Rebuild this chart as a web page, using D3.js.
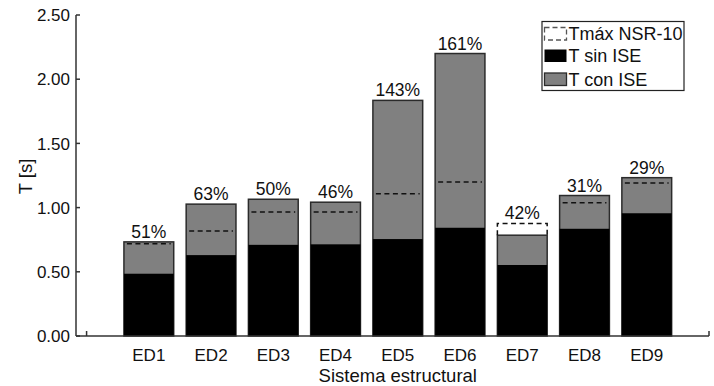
<!DOCTYPE html>
<html>
<head>
<meta charset="utf-8">
<script src="https://cdn.jsdelivr.net/npm/d3@7"></script>
<style>
  html, body { margin: 0; padding: 0; background: #fff; }
  svg { display: block; font-family: "Liberation Sans", Arial, sans-serif; }
</style>
</head>
<body>
<svg id="chart" width="714" height="386"></svg>
<script>
// Structural systems and their fundamental periods
const categories = ["ED1", "ED2", "ED3", "ED4", "ED5", "ED6", "ED7", "ED8", "ED9"];
const tSinISE = [0.485, 0.630, 0.710, 0.714, 0.755, 0.843, 0.553, 0.835, 0.956];
const tConISE = [0.733, 1.027, 1.065, 1.042, 1.835, 2.200, 0.785, 1.094, 1.233];
const tMaxNSR = [0.719, 0.818, 0.966, 0.966, 1.108, 1.199, 0.877, 1.038, 1.192];
const pctLabels = ["51%", "63%", "50%", "46%", "143%", "161%", "42%", "31%", "29%"];
const yTicks = [0, 0.5, 1.0, 1.5, 2.0, 2.5];
const legendItems = ["Tmáx NSR-10", "T sin ISE", "T con ISE"];

const svg = d3.select("#chart");
const FS = 17;
const GRAY = "#808080";
const EDGE = "#2b2b2b";

// Slot positions 0..10; the structures occupy slots 1..9
const x = d3.scaleLinear().domain([-0.17, 10]).range([76, 709]);
const y = d3.scaleLinear().domain([0, 2.5]).range([336, 15]);
const barW = x(0.8) - x(0);

// Inward slot ticks on the category axis (only the empty end slots show)
d3.range(0, 11).forEach(s => {
  svg.append("line")
    .attr("x1", x(s)).attr("x2", x(s))
    .attr("y1", y(0)).attr("y2", y(0) - 5)
    .attr("stroke", "#333").attr("stroke-width", 1.5);
});

// Bars: T con ISE (gray), then T sin ISE (black) in front
const g = svg.append("g");
categories.forEach((c, i) => {
  const cx = x(i + 1);
  g.append("rect")
    .attr("x", cx - barW / 2).attr("width", barW)
    .attr("y", y(tConISE[i])).attr("height", y(0) - y(tConISE[i]))
    .attr("fill", GRAY).attr("stroke", EDGE).attr("stroke-width", 1.5);
  g.append("rect")
    .attr("x", cx - barW / 2).attr("width", barW)
    .attr("y", y(tSinISE[i])).attr("height", y(0) - y(tSinISE[i]))
    .attr("fill", "#000");
  // Code limit shown as an open dashed box
  const tm = tMaxNSR[i];
  if (tm > tConISE[i]) {
    g.append("path")
      .attr("d", `M${cx - barW / 2},${y(tConISE[i])}V${y(tm)}H${cx + barW / 2}V${y(tConISE[i])}`)
      .attr("fill", "none").attr("stroke", "#111").attr("stroke-width", 1.5)
      .attr("stroke-dasharray", "5,3.5");
  } else {
    g.append("line")
      .attr("x1", cx - barW / 2 + 3).attr("x2", cx + barW / 2 - 3)
      .attr("y1", y(tm)).attr("y2", y(tm))
      .attr("stroke", "#111").attr("stroke-width", 1.5)
      .attr("stroke-dasharray", "5,3.5");
  }
  const top = Math.max(tConISE[i], tm);
  g.append("text")
    .attr("x", cx).attr("y", y(top) - 4)
    .attr("text-anchor", "middle").attr("font-size", 17.5).attr("fill", "#111")
    .text(pctLabels[i]);
});

// Axes
const axisColor = "#333";
svg.append("line")
  .attr("x1", x.range()[0]).attr("x2", x.range()[0])
  .attr("y1", y(2.5)).attr("y2", y(0))
  .attr("stroke", axisColor).attr("stroke-width", 1.5);
svg.append("line")
  .attr("x1", x.range()[0]).attr("x2", x.range()[1])
  .attr("y1", y(0)).attr("y2", y(0))
  .attr("stroke", axisColor).attr("stroke-width", 1.5);

yTicks.forEach(t => {
  svg.append("line")
    .attr("x1", x.range()[0]).attr("x2", x.range()[0] + 4)
    .attr("y1", y(t)).attr("y2", y(t))
    .attr("stroke", axisColor).attr("stroke-width", 1.5);
  svg.append("text")
    .attr("x", 70).attr("y", y(t)).attr("dy", "0.36em")
    .attr("text-anchor", "end").attr("font-size", FS).attr("fill", "#111")
    .text(t.toFixed(2));
});

categories.forEach((c, i) => {
  svg.append("text")
    .attr("x", x(i + 1)).attr("y", 361)
    .attr("text-anchor", "middle").attr("font-size", FS).attr("fill", "#111")
    .text(c);
});

svg.append("text")
  .attr("x", x(5)).attr("y", 381.5)
  .attr("text-anchor", "middle").attr("font-size", 18.5).attr("fill", "#111")
  .text("Sistema estructural");

svg.append("text")
  .attr("transform", `translate(32,176.5) rotate(-90)`)
  .attr("text-anchor", "middle").attr("font-size", 18.5).attr("fill", "#111")
  .text("T [s]");

// Legend
const lg = svg.append("g");
lg.append("rect")
  .attr("x", 542).attr("y", 21.5).attr("width", 142).attr("height", 69)
  .attr("fill", "#fff").attr("stroke", "#222").attr("stroke-width", 1.2);
const rowY = [27.5, 49.5, 73];
legendItems.forEach((name, k) => {
  const sw = lg.append("rect")
    .attr("x", 544.5).attr("y", rowY[k]).attr("width", 22).attr("height", 12.5);
  if (k === 0) {
    sw.attr("fill", "none").attr("stroke", "#555").attr("stroke-width", 1.3)
      .attr("stroke-dasharray", "5,3");
  } else if (k === 1) {
    sw.attr("fill", "#000");
  } else {
    sw.attr("fill", GRAY).attr("stroke", EDGE).attr("stroke-width", 1.3);
  }
  lg.append("text")
    .attr("x", 568.5).attr("y", rowY[k] + 6.5).attr("dy", "0.36em")
    .attr("font-size", 18).attr("fill", "#111")
    .text(name);
});
</script>
</body>
</html>
